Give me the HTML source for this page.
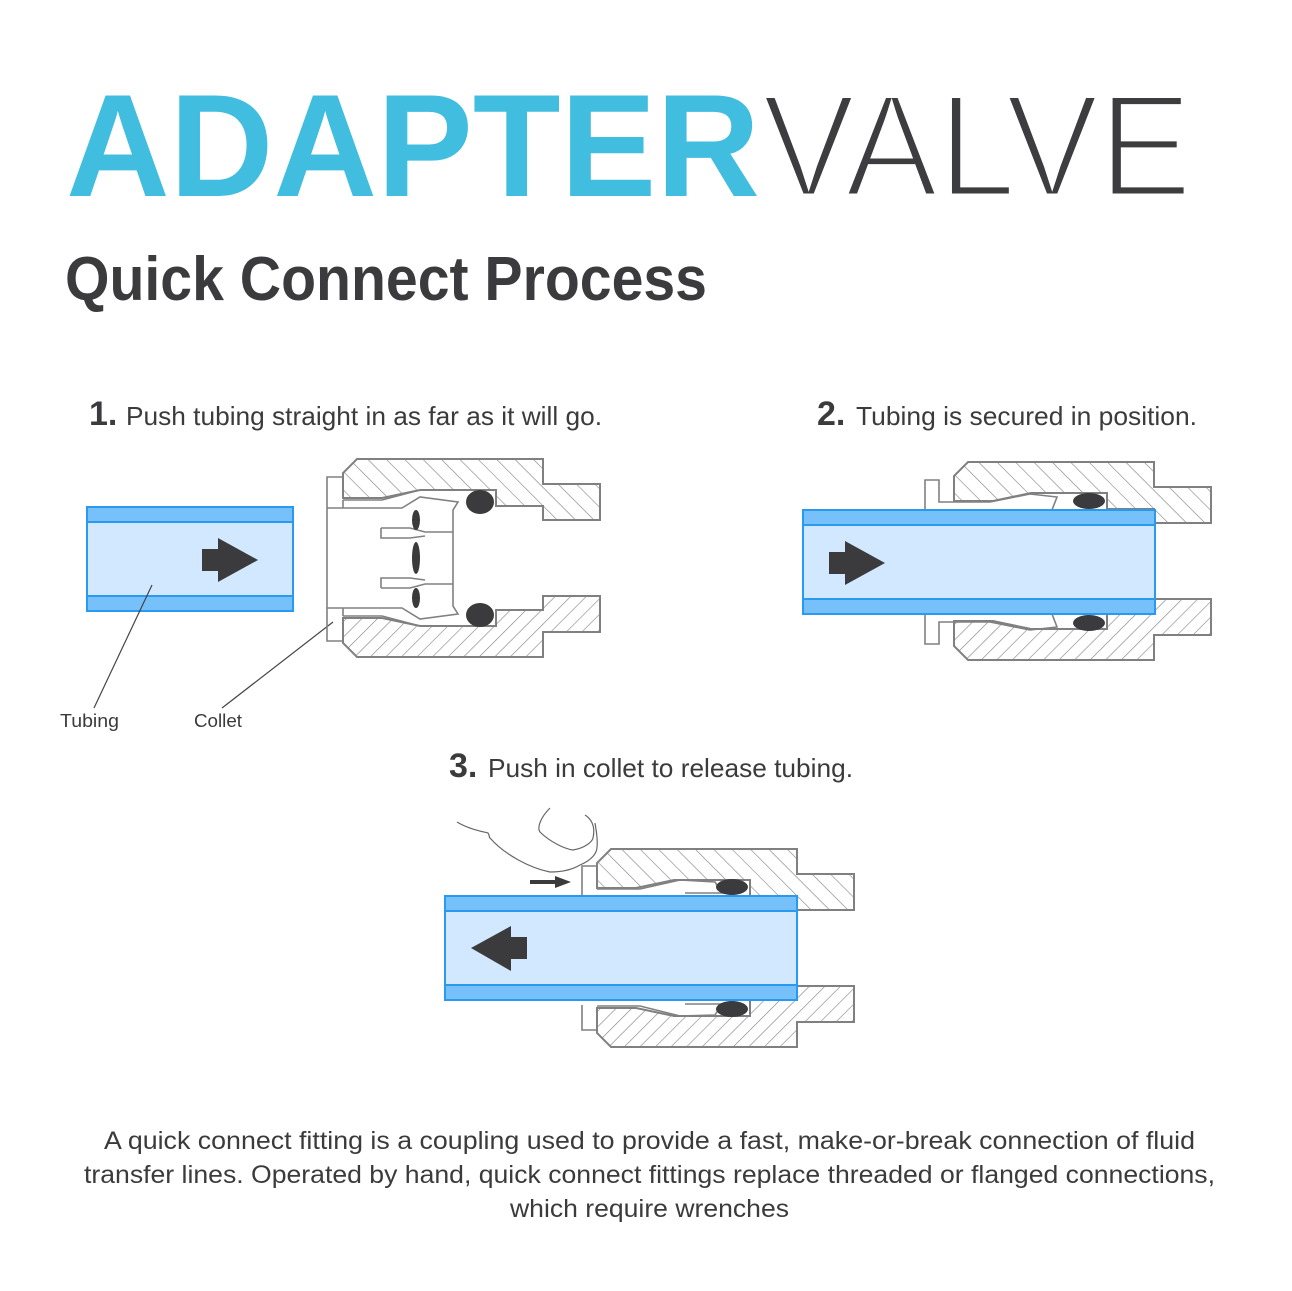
<!DOCTYPE html>
<html><head><meta charset="utf-8"><style>
html,body{margin:0;padding:0;background:#fff}
svg{display:block}
text{font-family:"Liberation Sans",sans-serif}
</style></head><body>
<svg width="1292" height="1291" viewBox="0 0 1292 1291" xmlns="http://www.w3.org/2000/svg">
<defs>
<pattern id="hA" patternUnits="userSpaceOnUse" width="13" height="13" patternTransform="rotate(-45)">
<line x1="0" y1="0" x2="0" y2="13" stroke="#808080" stroke-width="1.2"/></pattern>
<pattern id="hB" patternUnits="userSpaceOnUse" width="11" height="11" patternTransform="rotate(45)">
<line x1="0" y1="0" x2="0" y2="11" stroke="#808080" stroke-width="1.2"/></pattern>
<g id="body">
<path d="M357,459 H543 V484 H600 V520 H543 V506 H496 V490 H420 L382,498 H343 V473 Z" fill="url(#hA)" stroke="#808080" stroke-width="2"/>
<path d="M357,657 H543 V632 H600 V596 H543 V610 H496 V626 H420 L382,618 H343 V643 Z" fill="url(#hB)" stroke="#808080" stroke-width="2"/>
</g>
</defs>

<text x="66" y="196" font-size="146" font-weight="bold" fill="#41bde0" textLength="694" lengthAdjust="spacingAndGlyphs">ADAPTER</text>
<text x="762" y="196" font-size="146" fill="#3d3d3f" stroke="#fff" stroke-width="5" textLength="430" lengthAdjust="spacingAndGlyphs">VALVE</text>
<text x="65" y="300" font-size="62" font-weight="bold" fill="#3b3b3d" textLength="642" lengthAdjust="spacingAndGlyphs">Quick Connect Process</text>

<g fill="#3b3b3d">
<text x="89" y="425" font-size="34" font-weight="bold">1.</text>
<text x="126" y="425" font-size="26" textLength="476" lengthAdjust="spacingAndGlyphs">Push tubing straight in as far as it will go.</text>
<text x="817" y="425" font-size="34" font-weight="bold">2.</text>
<text x="856" y="425" font-size="26" textLength="341" lengthAdjust="spacingAndGlyphs">Tubing is secured in position.</text>
<text x="449" y="777" font-size="34" font-weight="bold">3.</text>
<text x="488" y="777" font-size="26" textLength="365" lengthAdjust="spacingAndGlyphs">Push in collet to release tubing.</text>
<text x="60" y="727" font-size="18" textLength="59" lengthAdjust="spacingAndGlyphs">Tubing</text>
<text x="194" y="727" font-size="18" textLength="48" lengthAdjust="spacingAndGlyphs">Collet</text>
<g font-size="25">
<text x="104" y="1149" textLength="1091" lengthAdjust="spacingAndGlyphs">A quick connect fitting is a coupling used to provide a fast, make-or-break connection of fluid</text>
<text x="84" y="1183" textLength="1131" lengthAdjust="spacingAndGlyphs">transfer lines. Operated by hand, quick connect fittings replace threaded or flanged connections,</text>
<text x="510" y="1217" textLength="279" lengthAdjust="spacingAndGlyphs">which require wrenches</text>
</g>
</g>

<!-- Diagram 1 -->
<rect x="87" y="507" width="206" height="104" fill="#d2e8fe" stroke="#2a9af0" stroke-width="2"/>
<rect x="87" y="507" width="206" height="15" fill="#77c1fb" stroke="#2a9af0" stroke-width="2"/>
<rect x="87" y="596" width="206" height="15" fill="#77c1fb" stroke="#2a9af0" stroke-width="2"/>
<path d="M202,549 H218 V538 L258,560 L218,582 V571 H202 Z" fill="#3b3b3d"/>
<line x1="152" y1="585" x2="94" y2="708" stroke="#444" stroke-width="1.2"/>
<line x1="333" y1="622" x2="222" y2="708" stroke="#444" stroke-width="1.2"/>
<use href="#body"/>
<g fill="none" stroke="#808080" stroke-width="1.6">
<path d="M343,477 H327 V641 H343"/>
<path d="M343,500 V508 M327,508 H402 L420,497 L458,502 L453,510 V606 L458,614 L420,619 L402,608 H327 M343,608 V616"/>
<path d="M343,500 H382 L420,490 M343,616 H382 L420,626"/>
<path d="M381,528 H410 L425,532 H453 M381,528 V538 H410 L425,536"/>
<path d="M381,588 H410 L425,584 H453 M381,588 V578 H410 L425,580"/>
</g>
<g fill="#3b3b3d">
<ellipse cx="480" cy="502" rx="14" ry="12"/>
<ellipse cx="480" cy="615" rx="14" ry="12"/>
<ellipse cx="416" cy="520" rx="4" ry="10"/>
<ellipse cx="416" cy="558" rx="4" ry="16"/>
<ellipse cx="416" cy="598" rx="4" ry="10"/>
</g>

<!-- Diagram 2 -->
<g transform="translate(611,3)"><use href="#body"/></g>
<g fill="none" stroke="#808080" stroke-width="1.6">
<path d="M954,502 H939 V480 H925 V644 H939 V622 H954"/>
<path d="M954,502 H990 L1030,494 L1057,497 L1052,510 H1020"/>
<path d="M954,622 H990 L1030,630 L1057,627 L1052,614 H1020"/>
</g>
<ellipse cx="1089" cy="501" rx="16" ry="8" fill="#3b3b3d"/>
<ellipse cx="1089" cy="623" rx="16" ry="8" fill="#3b3b3d"/>
<rect x="803" y="510" width="352" height="104" fill="#d2e8fe" stroke="#2a9af0" stroke-width="2"/>
<rect x="803" y="510" width="352" height="15" fill="#77c1fb" stroke="#2a9af0" stroke-width="2"/>
<rect x="803" y="599" width="352" height="15" fill="#77c1fb" stroke="#2a9af0" stroke-width="2"/>
<path d="M829,552 H845 V541 L885,563 L845,585 V574 H829 Z" fill="#3b3b3d"/>

<!-- Diagram 3 -->
<g transform="translate(254,390)"><use href="#body"/></g>
<g fill="none" stroke="#808080" stroke-width="1.6">
<path d="M597,866 H582 V895 M582,1005 V1030 H597"/>
<path d="M597,889 H640 L680,880 L715,882 L722,893 H685"/>
<path d="M597,1006 H640 L680,1016 L715,1015 L722,1004 H685"/>
<path d="M457,822 C470,830 485,832 488,833 C490,836 489,838 490,838 C505,855 530,868 550,872 C565,872 575,868 580,865 C592,860 597,853 597,847 C598,838 596,830 595,823" stroke="#666" stroke-width="1.2"/>
<path d="M550,808 C540,818 537,828 540,832 C550,842 565,849 573,850 C585,848 592,842 593,838 C596,825 590,818 585,815" stroke="#666" stroke-width="1.2"/>
</g>
<ellipse cx="732" cy="887" rx="16" ry="8" fill="#3b3b3d"/>
<ellipse cx="732" cy="1009" rx="16" ry="8" fill="#3b3b3d"/>
<rect x="445" y="896" width="352" height="104" fill="#d2e8fe" stroke="#2a9af0" stroke-width="2"/>
<rect x="445" y="896" width="352" height="15" fill="#77c1fb" stroke="#2a9af0" stroke-width="2"/>
<rect x="445" y="985" width="352" height="15" fill="#77c1fb" stroke="#2a9af0" stroke-width="2"/>
<path d="M527,937 H511 V926 L471,948 L511,971 V959 H527 Z" fill="#3b3b3d"/>
<path d="M530,880 H555 V876 L571,882 L555,888 V884 H530 Z" fill="#3b3b3d"/>
</svg>
</body></html>
